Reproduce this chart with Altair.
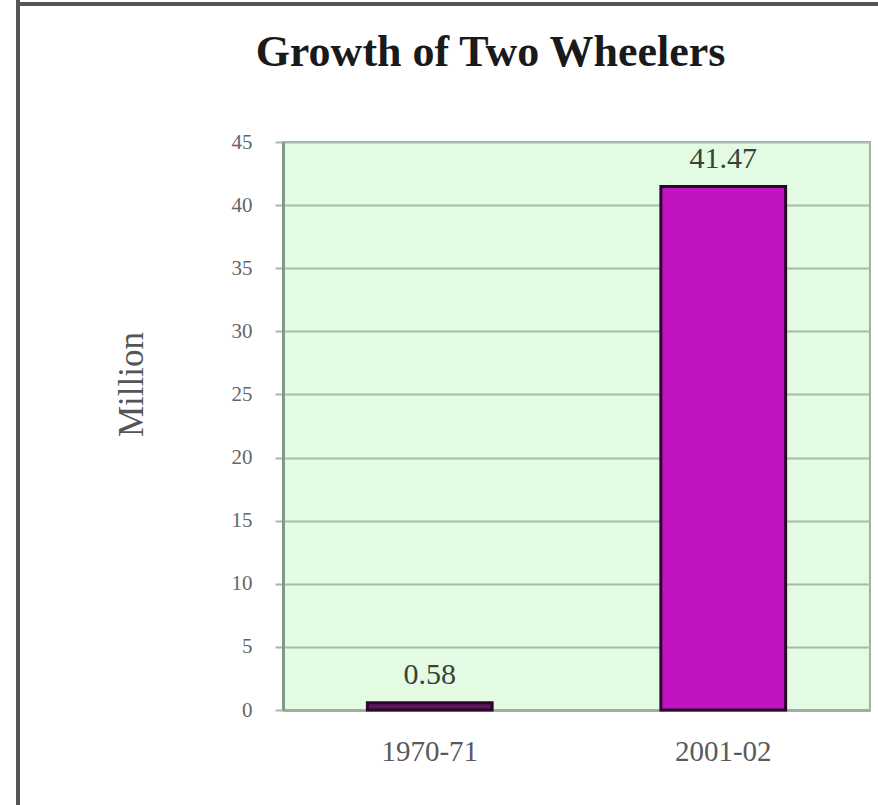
import altair as alt
import pandas as pd

# ---- data ----
periods = ["1970-71", "2001-02"]
millions = [0.58, 41.47]
bar_colors = ["#5c145c", "#c014c0"]
y_ticks = [0, 5, 10, 15, 20, 25, 30, 35, 40, 45]

df = pd.DataFrame({"period": periods, "value": millions, "color": bar_colors})
frame_df = pd.DataFrame({"k": [0]})

W, H = 587, 568
SERIF = "Liberation Serif"

x_enc = alt.X(
    "period:N", sort=periods, title=None,
    scale=alt.Scale(paddingInner=0, paddingOuter=0),
    axis=alt.Axis(labelAngle=0, labelFont=SERIF, labelFontSize=29,
                  labelColor="#5a5a5a", labelBaseline="alphabetic",
                  labelPadding=50, ticks=False, grid=False,
                  domain=True, domainColor="#a3ada3", domainWidth=3),
)
y_enc = alt.Y(
    "value:Q", title="Million",
    scale=alt.Scale(domain=[0, 45], nice=False, zero=True),
    axis=alt.Axis(values=y_ticks, labelFont=SERIF, labelFontSize=21,
                  labelColor="#666666", labelPadding=23,
                  tickSize=8, tickColor="#a3b8a6", tickWidth=2,
                  grid=True, gridColor="#a6bba9", gridWidth=2,
                  domainColor="#7f9a86", domainWidth=3,
                  titleFont=SERIF, titleFontSize=35, titleFontWeight="normal",
                  titleColor="#555555", titleX=-152, titleY=242,
                  titleAlign="center", titleBaseline="middle", titleAngle=270),
)

bars = alt.Chart(df).mark_bar(
    width=alt.RelativeBandSize(0.425), stroke="#2a062a", strokeWidth=3
).encode(x=x_enc, y=y_enc, color=alt.Color("color:N", scale=None))

labels = alt.Chart(df).mark_text(
    baseline="alphabetic", dy=-19, font=SERIF, fontSize=30, color="#364436"
).encode(x=x_enc, y=y_enc, text=alt.Text("value:Q", format=".2f"))

frame_left = alt.Chart(frame_df).mark_rule(color="#555555", strokeWidth=4).encode(
    x=alt.value(-265), y=alt.value(-142), y2=alt.value(663)
)
frame_top = alt.Chart(frame_df).mark_rule(color="#555555", strokeWidth=4).encode(
    x=alt.value(-267), x2=alt.value(600), y=alt.value(-138)
)

chart = alt.layer(bars, labels, frame_left, frame_top).properties(
    width=W, height=H,
    autosize=alt.AutoSizeParams(type="none"),
    padding={"left": 283, "top": 142, "right": 8, "bottom": 95},
    title=alt.TitleParams(
        "Growth of Two Wheelers", font=SERIF, fontSize=44, fontWeight="bold",
        color="#1a1a1a", anchor="middle", frame="group", offset=0,
        baseline="alphabetic", dx=-86, dy=112,
    ),
    background="white",
).configure_view(fill="#e3fbe3", stroke="#9fb3a3", strokeWidth=2)

chart.save("out.html", embed_options={"renderer": "svg", "actions": False})
